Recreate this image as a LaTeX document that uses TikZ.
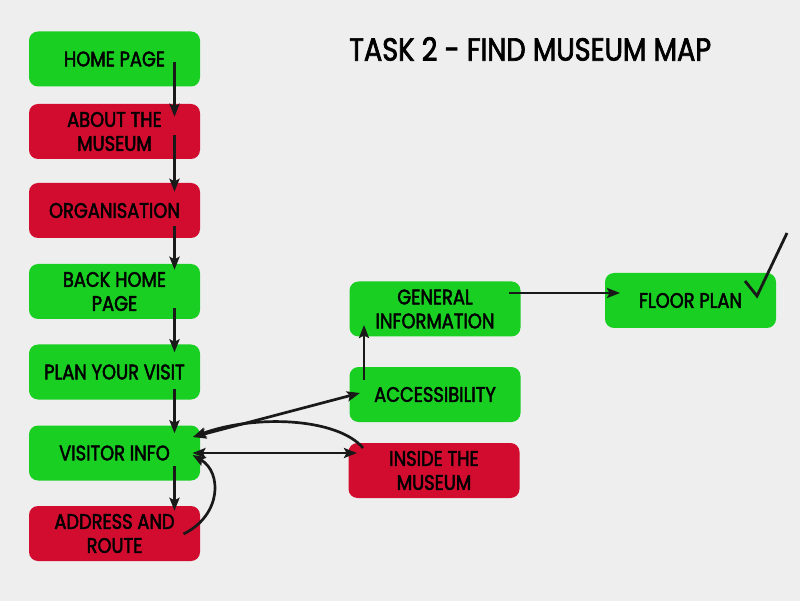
\documentclass[tikz,border=0pt]{standalone}
\usepackage{fontspec}
\setmainfont{Poppins}[FakeStretch=0.85, FakeBold=2.2]
\usetikzlibrary{arrows.meta}
\definecolor{bgc}{HTML}{EEEEEE}
\definecolor{gbox}{HTML}{19CF22}
\definecolor{rbox}{HTML}{D10C2F}
\tikzset{
  box/.style={rounded corners=9pt, minimum width=171pt, minimum height=55pt, inner sep=0pt, align=center, font=\fontsize{21}{24}\selectfont, text=black},
  gbx/.style={box, fill=gbox},
  rbx/.style={box, fill=rbox},
  conn/.style={line width=2.7pt, draw=black!90, -{Stealth[length=13pt,width=10pt,inset=2.5pt]}},
  conn2/.style={line width=2.7pt, draw=black!90, {Stealth[length=13pt,width=10pt,inset=2.5pt]}-{Stealth[length=13pt,width=10pt,inset=2.5pt]}},
}
\begin{document}
\begin{tikzpicture}[x=1pt,y=-1pt]
\fill[bgc] (0,0) rectangle (800,601);
\useasboundingbox (0,0) rectangle (800,601);
\node[font=\fontsize{32}{32}\selectfont, anchor=west, inner sep=0pt] (title) at (349,49) {TASK 2 - FIND MUSEUM MAP};
\node[gbx] (home) at (114.5,59) {HOME PAGE};
\node[rbx] (about) at (114.5,131.5) {ABOUT THE\\MUSEUM};
\node[rbx] (org) at (114.5,210.5) {ORGANISATION};
\node[gbx] (back) at (114.5,291.5) {BACK HOME\\PAGE};
\node[gbx] (plan) at (114.5,372) {PLAN YOUR VISIT};
\node[gbx] (visitor) at (114.5,453) {VISITOR INFO};
\node[rbx] (addr) at (114.5,533.5) {ADDRESS AND\\ROUTE};
\node[gbx] (access) at (435,394.5) {ACCESSIBILITY};
\node[rbx] (inside) at (434,470.5) {INSIDE THE\\MUSEUM};
\node[gbx] (general) at (435,309) {GENERAL\\INFORMATION};
\node[gbx] (floor) at (690.5,300.5) {FLOOR PLAN};
% vertical chain
\draw[conn] ([shift={(60,3)}]home.center) -- ([shift={(60,13)}]about.north);
\draw[conn] ([shift={(60,3.5)}]about.center) -- ([shift={(60,9)}]org.north);
\draw[conn] ([shift={(60,15.5)}]org.center) -- ([shift={(60,6)}]back.north);
\draw[conn] ([shift={(60,16.5)}]back.center) -- ([shift={(60,8)}]plan.north);
\draw[conn] ([shift={(60,17)}]plan.center) -- ([shift={(60,8)}]visitor.north);
\draw[conn] ([shift={(60,13)}]visitor.center) -- ([shift={(60,5)}]addr.north);
% curves and links around visitor info
\draw[conn] ([shift={(69,0.5)}]addr.center) .. controls (222,515) and (222,472) .. ([shift={(78,2)}]visitor.center);
\draw[conn2] ([shift={(78,0)}]visitor.center) -- ([shift={(-77,-17.5)}]inside.center);
\draw[conn2] ([shift={(78.5,-16)}]visitor.center) -- ([shift={(-75,-1.5)}]access.center);
\draw[conn] ([shift={(-71,-22.5)}]inside.center) .. controls (338,418) and (255,414) .. ([shift={(78.5,-16)}]visitor.center);
\draw[conn] ([shift={(-71,-14.5)}]access.center) -- ([shift={(-71,16)}]general.center);
\draw[conn] ([shift={(74,-16)}]general.center) -- ([shift={(-70.5,-7.5)}]floor.center);
% check mark
\draw[line width=2.8pt, black!90, line join=miter] (745,281) -- (757,296) -- (787,233);
\end{tikzpicture}
\end{document}
